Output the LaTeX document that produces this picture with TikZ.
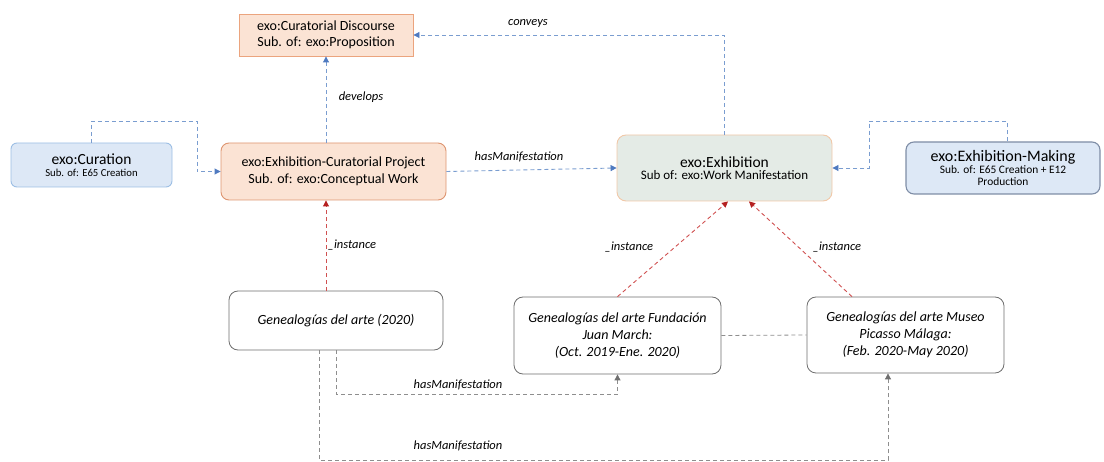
\documentclass[tikz,border=0pt]{standalone}
\usepackage{fontspec}
\setmainfont{Carlito}
\usetikzlibrary{arrows.meta,calc}
\definecolor{orfill}{HTML}{FBE3D4}
\definecolor{ordraw}{HTML}{EBA47E}
\definecolor{prdraw}{HTML}{DE9570}
\definecolor{blfill}{HTML}{DDE8F6}
\definecolor{bldraw}{HTML}{9CBEE4}
\definecolor{mkdraw}{HTML}{7E8DA6}
\definecolor{exfill}{HTML}{E4EBE6}
\definecolor{exdraw}{HTML}{F1C8A8}
\definecolor{gbdraw}{HTML}{6E6E6E}
\definecolor{bline}{HTML}{7A9DD0}
\definecolor{btip}{HTML}{4F7AC0}
\definecolor{rline}{HTML}{D05050}
\definecolor{rtip}{HTML}{B52020}
\definecolor{gline}{HTML}{8E8E8E}
\definecolor{gtip}{HTML}{6F6F6F}
\tikzset{
  boxbase/.style={align=center, inner sep=2pt, line width=0.9pt},
  orbox/.style={boxbase, fill=orfill, draw=ordraw},
  prbox/.style={boxbase, fill=orfill, draw=prdraw, rounded corners=8pt},
  blbox/.style={boxbase, fill=blfill, draw=bldraw, rounded corners=6pt},
  mkbox/.style={boxbase, fill=blfill, draw=mkdraw, line width=1.1pt, rounded corners=8pt},
  exbox/.style={boxbase, fill=exfill, draw=exdraw, rounded corners=9pt},
  gbox/.style={boxbase, fill=white, draw=gbdraw, line width=0.8pt, rounded corners=9pt, font=\itshape\fontsize{14}{17}\selectfont},
  bluearrow/.style={draw=bline, line width=0.9pt, dash pattern=on 4pt off 3pt, -{Triangle[length=6pt,width=6pt,color=btip]}},
  redarrow/.style={draw=rline, line width=0.9pt, dash pattern=on 4pt off 3pt, -{Triangle[length=6pt,width=6pt,color=rtip]}},
  grayarrow/.style={draw=gline, line width=0.8pt, dash pattern=on 4pt off 3pt, -{Triangle[length=6pt,width=6pt,color=gtip]}},
  grayline/.style={draw=gline, line width=0.8pt, dash pattern=on 4pt off 3pt},
  lbl/.style={font=\itshape\fontsize{12.5}{14}\selectfont, text=black, inner sep=1pt}
}
\begin{document}
\begin{tikzpicture}[x=1pt,y=-1pt]
\useasboundingbox (0,0) rectangle (1104,462);
% boxes
\node[orbox, minimum width=174pt, minimum height=42pt, font=\fontsize{14}{16}\selectfont] (cd) at (326,35)
  {exo:Curatorial Discourse\\Sub. of: exo:Proposition};
\node[blbox, minimum width=161pt, minimum height=44pt] (cur) at (91.5,165)
  {{\fontsize{15.5}{17}\selectfont exo:Curation}\\{\fontsize{10.7}{13}\selectfont Sub. of: E65 Creation}};
\node[prbox, minimum width=225pt, minimum height=57pt, font=\fontsize{14}{17}\selectfont] (proj) at (333.5,171.5)
  {exo:Exhibition-Curatorial Project\\Sub. of: exo:Conceptual Work};
\node[exbox, minimum width=215pt, minimum height=66pt] (exh) at (724.5,168)
  {{\fontsize{15.5}{17}\selectfont exo:Exhibition}\\{\fontsize{13}{16}\selectfont Sub of: exo:Work Manifestation}};
\node[mkbox, minimum width=194pt, minimum height=52pt] (mak) at (1003,168)
  {{\fontsize{16}{17}\selectfont exo:Exhibition-Making}\\{\fontsize{11.4}{14}\selectfont Sub. of: E65 Creation + E12}\\{\fontsize{11.4}{14}\selectfont Production}};
\node[gbox, minimum width=214pt, minimum height=59pt] (gen) at (336,320.5)
  {Genealogías del arte (2020)};
\node[gbox, minimum width=207pt, minimum height=77pt] (fjm) at (617.5,335.5)
  {Genealogías del arte Fundación\\Juan March:\\(Oct. 2019-Ene. 2020)};
\node[gbox, minimum width=197pt, minimum height=76pt] (mpm) at (905.5,335)
  {Genealogías del arte Museo\\Picasso Málaga:\\(Feb. 2020-May 2020)};
% coordinates for bends
\coordinate (curtop) at (197,121);
\coordinate (maktop) at (869,121);
% blue connectors
\draw[bluearrow] (cd.south |- proj.north) -- (cd.south);
\draw[bluearrow] (exh.north) |- (cd.east);
\draw[bluearrow] (cur.north) |- (curtop) |- (proj.west);
\draw[bluearrow] (proj.east) -- (exh.west);
\draw[bluearrow] ([xshift=4pt]mak.north) |- (maktop) |- (exh.east);
% red connectors
\draw[redarrow] (cd.south |- gen.north) -- (cd.south |- proj.south);
\draw[redarrow] (fjm.north) -- ([xshift=3.5pt]exh.south);
\draw[redarrow] ([xshift=-53.5pt]mpm.north) -- ([xshift=24.5pt]exh.south);
% gray connectors
\draw[grayline] (fjm.east) -- (mpm.west);
\draw[grayarrow] (gen.south) |- ($(fjm.south)+(0,20)$) -- (fjm.south);
\draw[grayarrow] ([xshift=-17pt]gen.south) |- ($(mpm.south)+(-17.5,87)$) -- ([xshift=-17.5pt]mpm.south);
% labels
\node[lbl] (ldev) at (361,97) {develops};
\node[lbl] (lconv) at (528,23) {conveys};
\node[lbl] (lhm) at (519,157) {hasManifestation};
\node[lbl] (li1) at (352,245) {\_instance};
\node[lbl] (li2) at (629,247) {\_instance};
\node[lbl] (li3) at (837,247) {\_instance};
\node[lbl] (lhm1) at (458,385) {hasManifestation};
\node[lbl] (lhm2) at (458,446) {hasManifestation};
\end{tikzpicture}
\end{document}
